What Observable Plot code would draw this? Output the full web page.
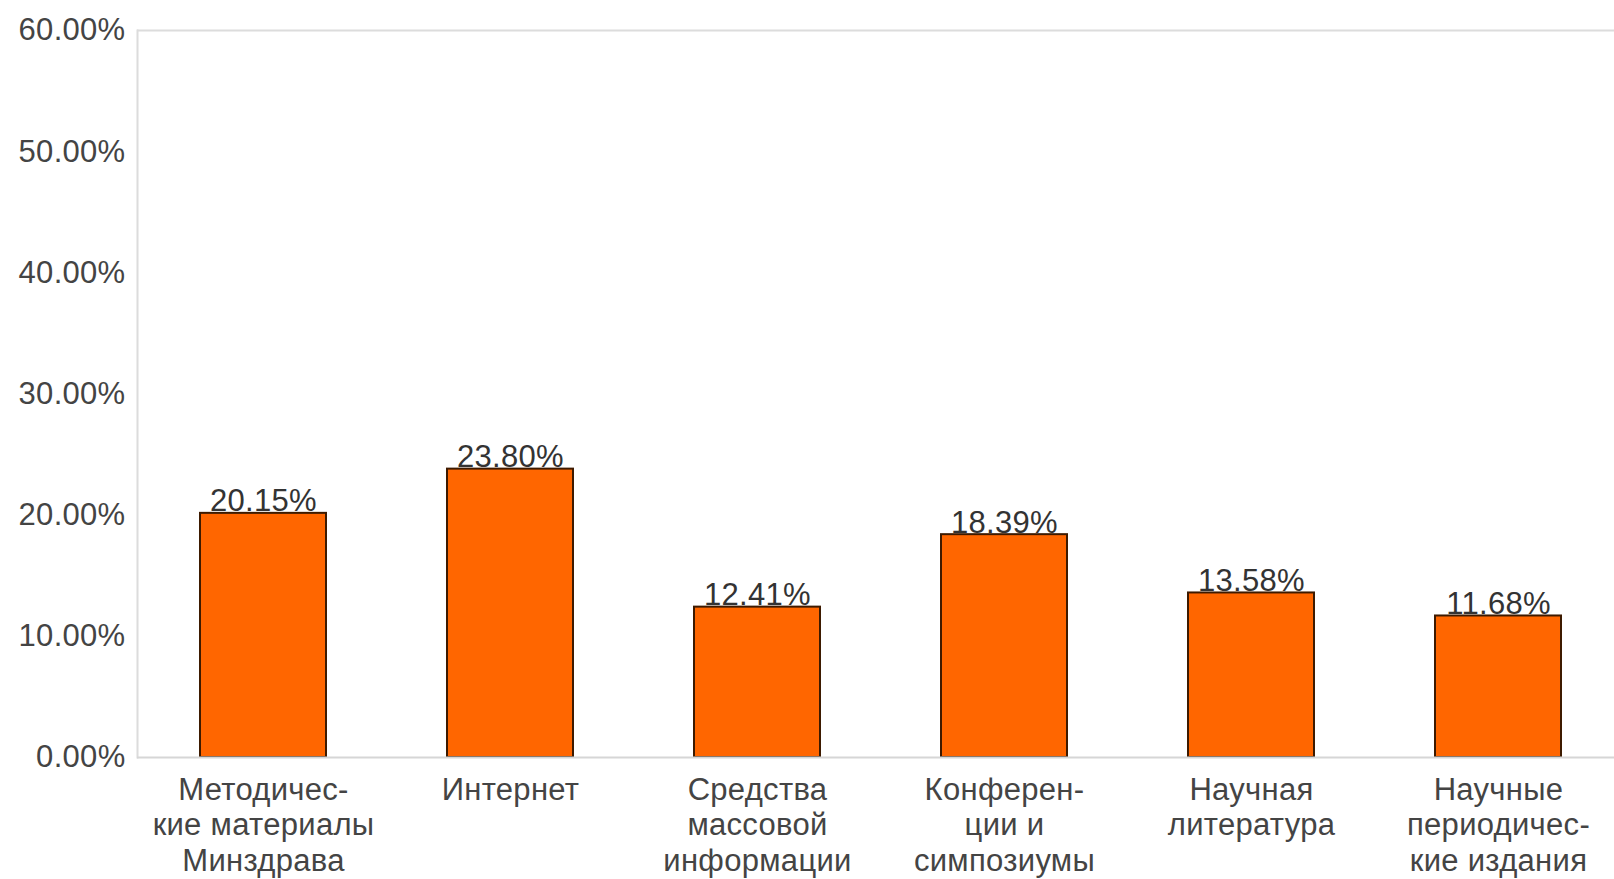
<!DOCTYPE html>
<html>
<head>
<meta charset="utf-8">
<script src="https://cdn.jsdelivr.net/npm/d3@7"></script>
<script src="https://cdn.jsdelivr.net/npm/@observablehq/plot@0.6"></script>
<style>
  html, body { margin: 0; padding: 0; background: #fff; overflow: hidden; }
  #chart svg { display: block; }
</style>
</head>
<body>
<div id="chart"></div>
<script>
const categories = [
  "Методичес-\nкие материалы\nМинздрава",
  "Интернет",
  "Средства\nмассовой\nинформации",
  "Конферен-\nции и\nсимпозиумы",
  "Научная\nлитература",
  "Научные\nпериодичес-\nкие издания"
];
const values = [20.15, 23.80, 12.41, 18.39, 13.58, 11.68];
const yTicks = [0, 10, 20, 30, 40, 50, 60];

const data = categories.map((c, i) => ({category: c, value: values[i]}));

const chart = Plot.plot({
  width: 1614,
  height: 879,
  marginLeft: 137,
  marginRight: -9,
  marginTop: 30,
  marginBottom: 122,
  style: {fontFamily: "'Liberation Sans', Arial, sans-serif", fontSize: "31px", color: "#444", background: "#fff", letterSpacing: "0.3px", overflow: "hidden"},
  x: {domain: categories, paddingInner: 0.49, paddingOuter: 0.253, label: null},
  y: {domain: [0, 60], label: null},
  marks: [
    Plot.frame({anchor: "left", stroke: "#dcdcdc", strokeWidth: 2}),
    Plot.ruleY([60], {stroke: "#dcdcdc", strokeWidth: 2}),
    Plot.barY(data, {x: "category", y: "value", fill: "#ff6600", stroke: "#3d1a00", strokeWidth: 2}),
    Plot.ruleY([0], {stroke: "#d6d6d6", strokeWidth: 2}),
    Plot.text(data, {x: "category", y: "value", text: d => d.value.toFixed(2) + "%", lineAnchor: "bottom", dy: -2, fill: "#333", fontSize: 31}),
    Plot.axisY({ticks: yTicks, tickFormat: d => d.toFixed(2) + "%", tickSize: 0, tickPadding: 12, fill: "#444", fontSize: 31, label: null}),
    Plot.axisX({tickSize: 0, tickPadding: 17, lineHeight: 1.145, fill: "#444", fontSize: 31, label: null})
  ]
});
document.getElementById("chart").appendChild(chart);
</script>
</body>
</html>
